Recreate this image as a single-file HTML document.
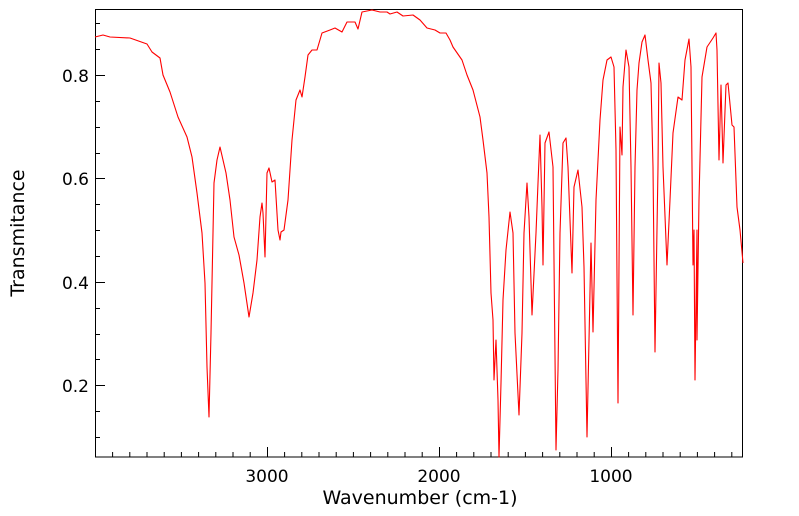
<!DOCTYPE html>
<html><head><style>body{margin:0;background:#fff}svg{display:block}text{font-family:"DejaVu Sans",sans-serif;font-size:17px;fill:#000}</style></head>
<body>
<svg width="799" height="516" viewBox="0 0 799 516">
<rect x="95.5" y="9.5" width="647" height="447.5" fill="none" stroke="#000" stroke-width="1"/>
<polyline fill="none" stroke="#ff0000" stroke-width="1.1" stroke-linejoin="round" points="95,37 103,35 110,37 130,38 147,44 152,52 160,58 163,75 170,92 178,117 187,137 192,157 197,193 202,233 205,283 207,367 209,417 211,333 214,183 217,160 220,147 223,160 226,173 230,200 234,237 239,255 244,283 249,317 253,293 257,260 260,217 262,203 263,213 265,257 267,173 269,168 272,182 275,180 278,230 280,240 281,232 284,230 288,200 292,140 296,100 300,90 302,97 305,77 308,55 312,50 317,50 322,33 330,30 335,28 342,32 347,22 355,22 358,29 362,12 372,10 380,12 387,12 390,14 397,12 403,16 413,15 420,20 427,28 435,30 440,33 446,33 450,40 453,47 462,60 467,75 473,90 480,117 483,140 487,173 489,217 491,293 493,320 494,380 496,340 498,400 499,457 501,383 503,300 506,250 510,212 513,233 515,333 519,415 522,333 524,233 527,183 529,217 532,315 536,233 538,183 540,135 542,207 543,265 545,143 549,132 553,167 556,450 558,370 560,233 563,143 566,138 568,167 572,273 574,187 578,170 582,207 584,267 587,437 591,243 593,332 596,200 600,120 603,80 607,60 611,57 614,67 616,150 618,403 620,127 622,155 623,87 626,50 629,67 631,167 633,315 635,167 637,90 639,63 642,42 645,35 648,60 651,83 653,167 655,352 658,167 659,63 661,83 663,167 667,265 670,200 673,133 678,97 682,100 685,60 689,39 691,67 693,265 694,230 695,380 697,230 697,340 699,200 702,77 707,47 713,38 716,33 717,50 719,160 721,85 723,163 726,85 728,83 732,125 734,127 737,207 740,230 743,263"/>
<g text-anchor="middle">
<text x="267" y="482">3000</text><text x="439" y="482">2000</text><text x="611" y="482">1000</text>
<text x="420" y="504" style="font-size:19px">Wavenumber (cm-1)</text>
</g>
<g text-anchor="end">
<text x="89" y="82">0.8</text><text x="89" y="185">0.6</text><text x="89" y="289">0.4</text><text x="89" y="392">0.2</text>
</g>
<text transform="translate(24,233) rotate(-90)" text-anchor="middle" style="font-size:19px">Transmitance</text>
<g stroke="#000" stroke-width="1">
<path d="M112.6,457v-5M129.8,457v-5M147,457v-5M164.2,457v-5M181.4,457v-5M198.6,457v-5M215.8,457v-5M233,457v-5M250.2,457v-5M267.5,457v-10M284.6,457v-5M301.8,457v-5M319,457v-5M336.2,457v-5M353.4,457v-5M370.6,457v-5M387.8,457v-5M405,457v-5M422.2,457v-5M439.5,457v-10M456.6,457v-5M473.8,457v-5M491,457v-5M508.2,457v-5M525.4,457v-5M542.6,457v-5M559.8,457v-5M577,457v-5M594.2,457v-5M611.5,457v-10M628.6,457v-5M645.8,457v-5M663,457v-5M680.2,457v-5M697.4,457v-5M714.6,457v-5M731.8,457v-5"/>
<path d="M95,23.5h5M95,49.5h5M95,75.5h10M95,101.5h5M95,127.5h5M95,153.5h5M95,178.5h10M95,204.5h5M95,230.5h5M95,256.5h5M95,282.5h10M95,308.5h5M95,334.5h5M95,359.5h5M95,385.5h10M95,411.5h5M95,437.5h5"/>
</g>
</svg>
</body></html>
